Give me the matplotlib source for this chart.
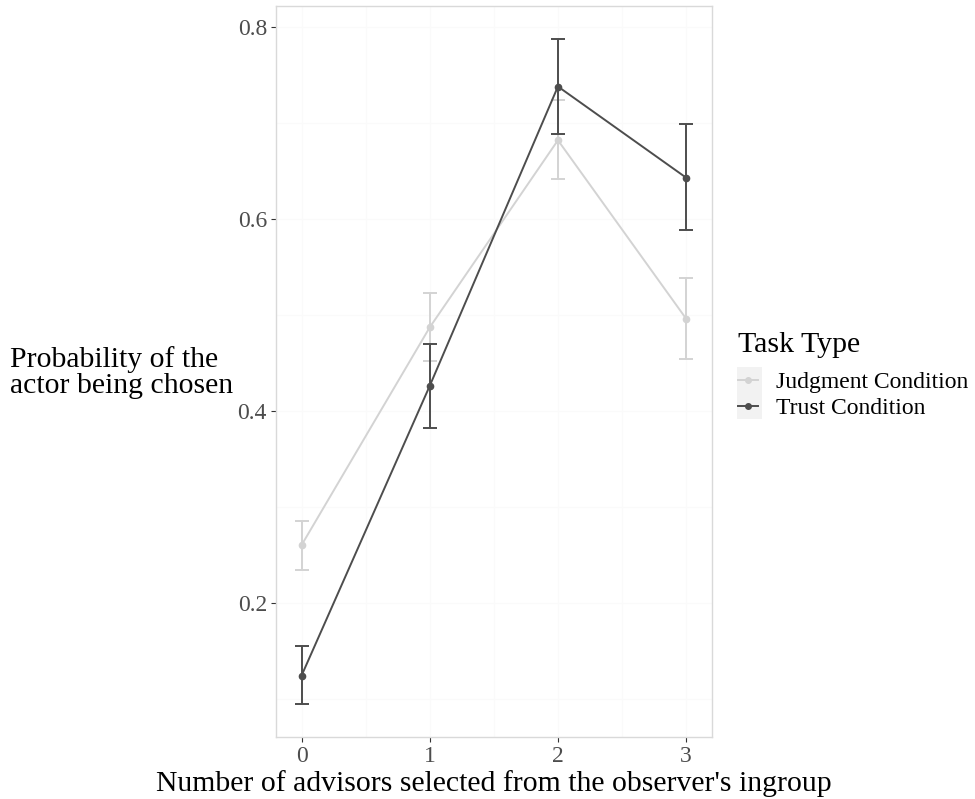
import matplotlib.pyplot as plt
from matplotlib.lines import Line2D
from matplotlib.patches import Rectangle
from matplotlib.ticker import MultipleLocator

plt.rcParams['font.family'] = ['Liberation Serif', 'DejaVu Serif']

# 資料：每個組別的平均值與誤差線上下界
advisors = [0, 1, 2, 3]
judgment_mean = [0.260, 0.487, 0.682, 0.496]
judgment_low = [0.234, 0.452, 0.642, 0.454]
judgment_high = [0.285, 0.523, 0.724, 0.538]
trust_mean = [0.124, 0.426, 0.738, 0.643]
trust_low = [0.094, 0.382, 0.688, 0.588]
trust_high = [0.155, 0.470, 0.788, 0.699]

series = [
    ('Judgment Condition', judgment_mean, judgment_low, judgment_high, '#d3d3d3'),
    ('Trust Condition', trust_mean, trust_low, trust_high, '#4d4d4d'),
]

fig = plt.figure(figsize=(9.75, 7.99), dpi=100)
ax = fig.add_axes([0.283, 0.0776, 0.447, 0.915])

for name, mean, low, high, color in series:
    err = [[m - l for m, l in zip(mean, low)], [h - m for m, h in zip(mean, high)]]
    ax.errorbar(advisors, mean, yerr=err, fmt='none', ecolor=color,
                elinewidth=1.4, capsize=4.7, capthick=1.4, zorder=3)
    ax.plot(advisors, mean, color=color, lw=1.4, marker='o', ms=4.5, zorder=4)

ax.set_xlim(-0.2, 3.2)
ax.set_ylim(0.060, 0.822)
ax.set_xticks(advisors)
ax.set_yticks([0.2, 0.4, 0.6, 0.8])
ax.xaxis.set_minor_locator(MultipleLocator(0.5))
ax.yaxis.set_minor_locator(MultipleLocator(0.1))
ax.grid(True, which='both', color='#fafafa', lw=0.8, zorder=0)
ax.set_axisbelow(True)

for s in ax.spines.values():
    s.set_color('#d9d9d9')
    s.set_linewidth(1.0)
ax.tick_params(axis='both', which='major', length=3.5, width=0.8, color='#333333',
               labelsize=17, labelcolor='#4d4d4d', pad=3)
ax.tick_params(axis='both', which='minor', length=0)

ax.set_xlabel("Number of advisors selected from the observer's ingroup",
              fontsize=21.4, color='black', labelpad=2)
fig.text(0.010, 0.534, 'Probability of the\nactor being chosen', fontsize=21.4,
         ha='left', va='center', linespacing=1.0)

# 圖例
handles = [Line2D([0], [0], color=c, lw=1.4, marker='o', ms=4) for _, _, _, _, c in series]
labels = [n for n, _, _, _, _ in series]
leg = fig.legend(handles, labels, title='Task Type', loc='upper left',
                 bbox_to_anchor=(0.757, 0.585), frameon=False, fontsize=17,
                 title_fontsize=21.5, handlelength=0.85, handletextpad=0.75,
                 labelspacing=0.2, borderpad=0, borderaxespad=0)
leg._legend_box.align = 'left'
leg._legend_box.sep = 10
fig.add_artist(Rectangle((737 / 975, 1 - 419 / 799), 25 / 975, 52 / 799,
                         transform=fig.transFigure, facecolor='#f2f2f2',
                         edgecolor='none', zorder=0))

fig.savefig('out.png', dpi=100)
